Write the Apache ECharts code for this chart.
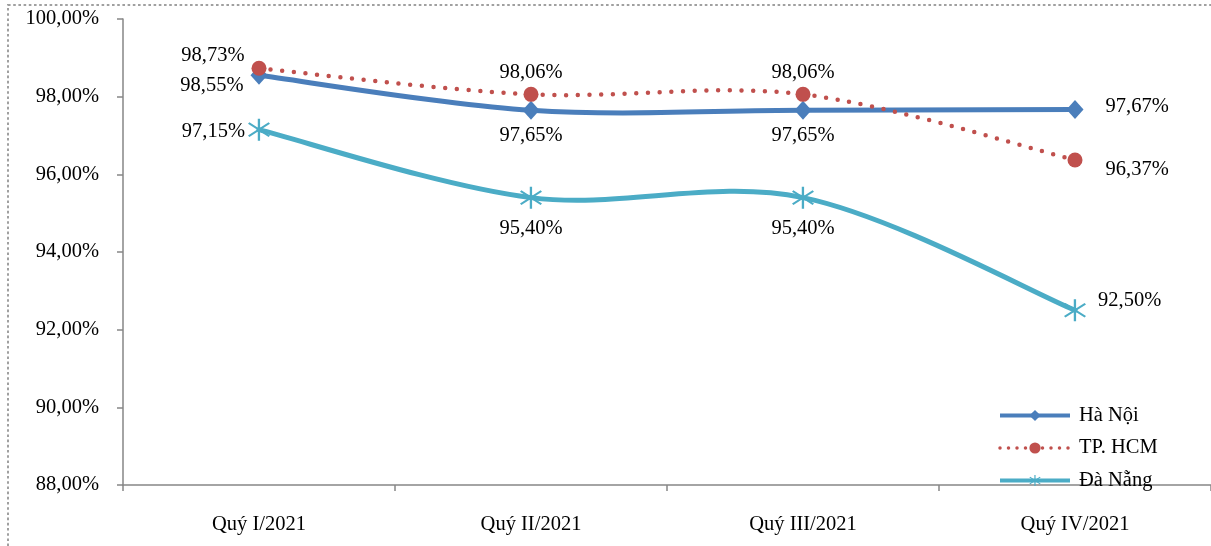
<!DOCTYPE html>
<html>
<head>
<meta charset="utf-8">
<script src="https://cdn.jsdelivr.net/npm/echarts@6/dist/echarts.min.js"></script>
<style>
  html, body { margin: 0; padding: 0; background: #fff; }
  #chart { width: 1211px; height: 546px; }
</style>
</head>
<body>
<div id="chart"></div>
<script>
// Quarterly rates by city, 2021
const categories = ['Quý I/2021', 'Quý II/2021', 'Quý III/2021', 'Quý IV/2021'];
const haNoi   = [98.55, 97.65, 97.65, 97.67];
const tpHcm   = [98.73, 98.06, 98.06, 96.37];
const daNang  = [97.15, 95.40, 95.40, 92.50];
const yTicks  = [88, 90, 92, 94, 96, 98, 100];

const FONT = '"Liberation Serif", "Times New Roman", serif';
const FS = 20.5;
const fmt = v => v.toFixed(2).replace('.', ',') + '%';

const BLUE = '#4a7ebb', RED = '#c0504d', CYAN = '#4bacc6';

// label placement per point: [position, distance, offsetX, offsetY]
const haNoiLbl  = [['left', 7, 0, 10], ['bottom', 5, 0, 0], ['bottom', 5, 0, 0], ['right', 22, 0, -3]];
const tpHcmLbl  = [['left', 7, 0, -13], ['top', 4, 0, 0], ['top', 4, 0, 0], ['right', 23, 0, 10]];
const daNangLbl = [['left', 3, 0, 2], ['bottom', 9, 0, 0], ['bottom', 9, 0, 0], ['right', 12, 0, -10]];

function withLabels(values, placement) {
  return values.map((v, i) => ({
    value: v,
    label: {
      show: true,
      position: placement[i][0],
      distance: placement[i][1],
      offset: [placement[i][2], placement[i][3]],
      formatter: p => fmt(p.value),
      color: '#000',
      fontFamily: FONT,
      fontSize: FS
    }
  }));
}

// six-spoke asterisk marker
const asterisk = 'path://M9.1 0L10.9 0L10.9 20L9.1 20Z M2.6 3.3L18.6 15.3L17.5 16.7L1.5 4.7Z M1.5 15.3L17.5 3.3L18.6 4.7L2.6 16.7Z';

// Cardinal-spline segment between point i and i+1, built from axis coordinates
function curveSeries(values, color, width, dash) {
  const n = values.length;
  return {
    type: 'custom',
    z: 1,
    silent: true,
    data: values.map((v, i) => [i, v]),
    renderItem(params, api) {
      const i = params.dataIndex;
      if (i >= n - 1) return null;
      const pt = k => {
        const c = Math.max(0, Math.min(n - 1, k));
        return api.coord([c, values[c]]);
      };
      const p0 = pt(i - 1), p1 = pt(i), p2 = pt(i + 1), p3 = pt(i + 2);
      const t = 1 / 6;
      const cp1 = [p1[0] + (p2[0] - p0[0]) * t, p1[1] + (p2[1] - p0[1]) * t];
      const cp2 = [p2[0] - (p3[0] - p1[0]) * t, p2[1] - (p3[1] - p1[1]) * t];
      return {
        type: 'bezierCurve',
        shape: { x1: p1[0], y1: p1[1], x2: p2[0], y2: p2[1],
                 cpx1: cp1[0], cpy1: cp1[1], cpx2: cp2[0], cpy2: cp2[1] },
        style: { stroke: color, lineWidth: width, fill: null,
                 lineDash: dash || null, lineCap: 'round', lineJoin: 'round' }
      };
    }
  };
}

const chart = echarts.init(document.getElementById('chart'), null, { renderer: 'canvas' });

chart.setOption({
  animation: false,
  backgroundColor: '#fff',
  graphic: [{
    type: 'rect',
    silent: true,
    z: -10,
    shape: { x: 8, y: 5, width: 1400, height: 1000 },
    style: { fill: 'none', stroke: '#a0a0a0', lineWidth: 2, lineDash: [2.6, 2.6] }
  }],
  grid: { left: 123, right: 0, top: 19, bottom: 61, containLabel: false },
  legend: {
    orient: 'vertical',
    left: 993,
    top: 400,
    itemWidth: 70,
    itemHeight: 14,
    itemGap: 11.5,
    textStyle: { fontFamily: FONT, fontSize: FS, color: '#000', lineHeight: 20, padding: [0, 0, 0, 4] },
    data: [
      { name: 'Hà Nội', lineStyle: { color: BLUE, width: 4, opacity: 1 } },
      { name: 'TP. HCM', lineStyle: { color: RED, width: 3.5, opacity: 1, type: [0, 8.5], cap: 'round' } },
      { name: 'Đà Nẵng', lineStyle: { color: CYAN, width: 4, opacity: 1 } }
    ]
  },
  xAxis: {
    type: 'category',
    data: categories,
    boundaryGap: true,
    axisLine: { lineStyle: { color: '#868686', width: 1.5 } },
    axisTick: { show: true, length: 6, lineStyle: { color: '#868686', width: 1.5 } },
    axisLabel: { margin: 29, color: '#000', fontFamily: FONT, fontSize: FS }
  },
  yAxis: {
    type: 'value',
    min: yTicks[0],
    max: yTicks[yTicks.length - 1],
    interval: 2,
    axisLine: { show: true, lineStyle: { color: '#868686', width: 1.5 } },
    axisTick: { show: true, length: 6, lineStyle: { color: '#868686', width: 1.5 } },
    splitLine: { show: false },
    axisLabel: {
      margin: 24, color: '#000', fontFamily: FONT, fontSize: FS,
      formatter: v => v.toFixed(2).replace('.', ',') + '%'
    }
  },
  series: [
    curveSeries(daNang, CYAN, 5),
    curveSeries(haNoi, BLUE, 5),
    curveSeries(tpHcm, RED, 4.5, [0, 11.7]),
    {
      name: 'Hà Nội',
      type: 'line',
      data: withLabels(haNoi, haNoiLbl),
      symbol: 'diamond',
      symbolSize: [17, 19],
      color: BLUE,
      lineStyle: { width: 4, color: BLUE, opacity: 0 },
      itemStyle: { color: BLUE },
      z: 3
    },
    {
      name: 'TP. HCM',
      type: 'line',
      data: withLabels(tpHcm, tpHcmLbl),
      symbol: 'circle',
      symbolSize: 15,
      color: RED,
      lineStyle: { width: 4, color: RED, opacity: 0 },
      itemStyle: { color: RED },
      z: 4
    },
    {
      name: 'Đà Nẵng',
      type: 'line',
      data: withLabels(daNang, daNangLbl),
      symbol: asterisk,
      symbolSize: 22,
      color: CYAN,
      lineStyle: { width: 4, color: CYAN, opacity: 0 },
      itemStyle: { color: CYAN },
      z: 2
    }
  ]
});
</script>
</body>
</html>
